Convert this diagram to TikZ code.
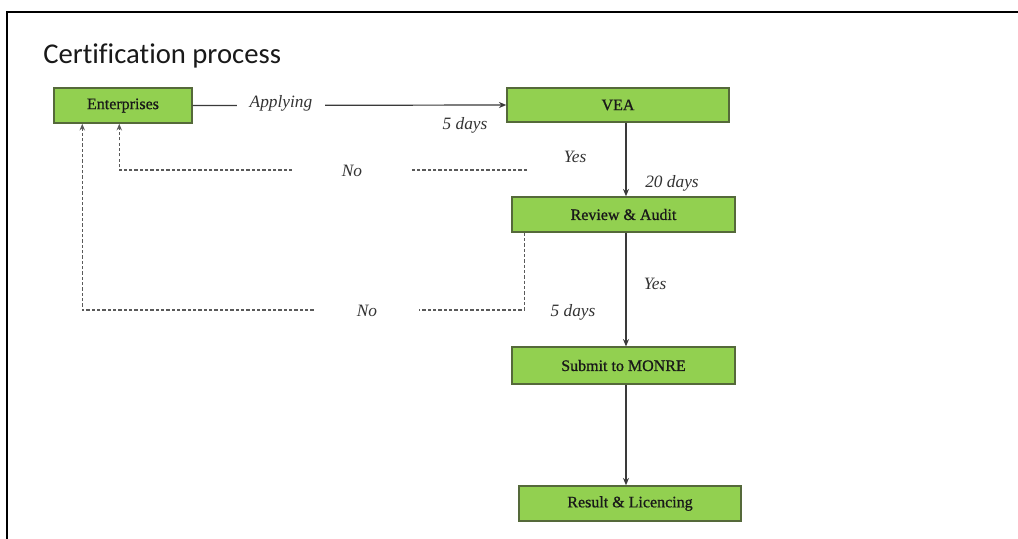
\documentclass[tikz,border=0pt]{standalone}
\usepackage{fontspec}
\setmainfont{Liberation Serif}
\newfontfamily\titlefont[Ligatures=NoCommon]{Carlito}
\newfontfamily\boxfont[RawFeature={embolden=0.9}]{Liberation Serif}
\usetikzlibrary{arrows.meta,calc}
\definecolor{boxgreen}{HTML}{92D050}
\definecolor{boxedge}{HTML}{55693A}
\definecolor{linegray}{HTML}{3A3A3A}
\definecolor{dashgray}{HTML}{5A5A5A}
\begin{document}
\begin{tikzpicture}[x=0.75pt,y=-0.75pt,
  procbox/.style={draw=boxedge,line width=1.1pt,fill=boxgreen,rectangle,inner sep=0pt,
    text=black!90,font=\boxfont\fontsize{12}{14}\selectfont},
  lbl/.style={fill=white,inner sep=2pt,font=\fontsize{13}{15}\selectfont\itshape,text=black!80},
  arr/.style={draw=linegray,line width=0.9pt,-{Stealth[length=5.5pt,width=4.5pt]}},
  darr/.style={draw=dashgray,line width=1pt,dash pattern=on 2.4pt off 1.6pt,-{Stealth[length=5pt,width=4pt]}}]
\useasboundingbox (0,0) rectangle (1018,539);
\fill[white] (0,0) rectangle (1018,539);
% frame (cropped slide border)
\draw[line width=1.5pt,black] (7,539) -- (7,12) -- (1018,12);
% title
\node[anchor=base west,inner sep=0pt,font=\titlefont\fontsize{21.5}{24}\selectfont,text=black!90] (title) at (43,63) {Certification process};
% boxes
\node[procbox,minimum width=103.5pt,minimum height=26.25pt] (ent) at (123,105.5) {Enterprises};
\node[procbox,minimum width=166.5pt,minimum height=25.5pt] (vea) at (618,105) {VEA};
\node[procbox,minimum width=167.25pt,minimum height=26.25pt] (rev) at (623.5,214.5) {Review \& Audit};
\node[procbox,minimum width=167.25pt,minimum height=27.5pt] (sub) at (623.5,365.5) {Submit to MONRE};
\node[procbox,minimum width=166.5pt,minimum height=26.25pt] (res) at (630,503.5) {Result \& Licencing};
% helper coordinates
\coordinate (spine) at (626,0);
\coordinate (low) at (0,310);
\coordinate (d1) at (527,170);
% solid connectors
\draw[arr] (ent.east) -- (vea.west);
\draw[arr] (vea.south -| spine) -- (rev.north -| spine);
\draw[arr] (rev.south -| spine) -- (sub.north -| spine);
\draw[arr] (sub.south -| spine) -- (res.north -| spine);
% dashed feedback connectors
\draw[darr] (d1) -| ([xshift=49.5pt]ent.south west);
\coordinate (r1) at ([xshift=9.75pt]rev.south west);
\coordinate (e2) at ([xshift=21.75pt]ent.south west);
\draw[darr] (r1) -- (r1 |- low) -- (e2 |- low) -- (e2);
% labels
\node[lbl,minimum width=66pt,minimum height=22pt] (lapp) at (281,103) {Applying};
\node[lbl] (l5a) at (465,125) {5 days};
\node[lbl,minimum width=90pt] (lno1) at (352,171) {No};
\node[lbl,minimum width=30pt] (lyes1) at (575,157) {Yes};
\node[lbl] (l20) at (672,183) {20 days};
\node[lbl] (lyes2) at (655,284) {Yes};
\node[lbl] (l5b) at (573,312) {5 days};
\node[lbl,minimum width=78pt] (lno2) at (367,311) {No};
\end{tikzpicture}
\end{document}
